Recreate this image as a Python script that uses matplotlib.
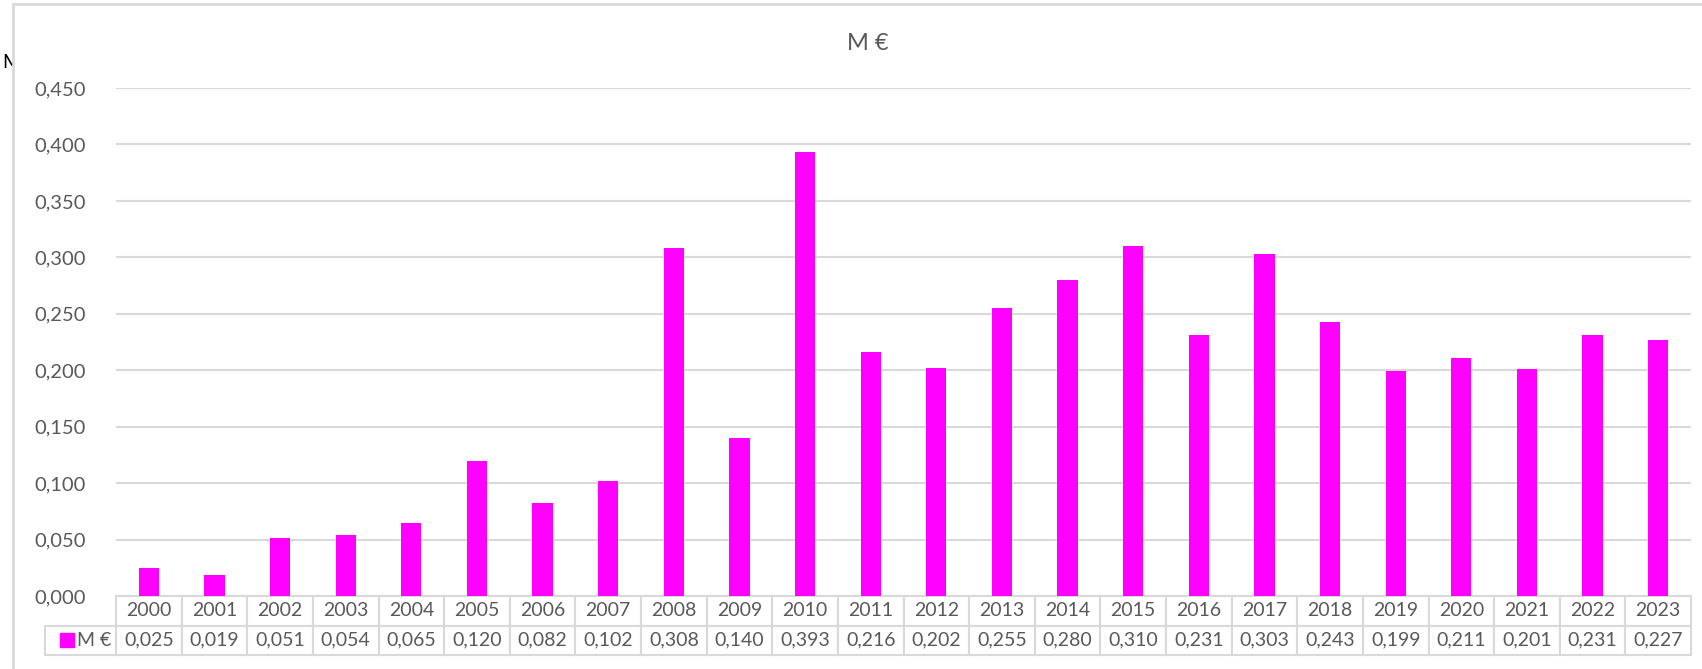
import matplotlib.pyplot as plt
from matplotlib.patches import Rectangle

years = [str(y) for y in range(2000, 2024)]
values = [0.025, 0.019, 0.051, 0.054, 0.065, 0.120, 0.082, 0.102, 0.308, 0.140,
          0.393, 0.216, 0.202, 0.255, 0.280, 0.310, 0.231, 0.303, 0.243, 0.199,
          0.211, 0.201, 0.231, 0.227]
series_name = 'M €'
yticks = [0, 0.05, 0.10, 0.15, 0.20, 0.25, 0.30, 0.35, 0.40, 0.45]

mag = '#FF00FF'
txt = '#595959'
grid = '#D9D9D9'
plt.rcParams['font.family'] = ['Lato', 'DejaVu Sans']

W, H = 1702, 669
fig = plt.figure(figsize=(W / 100, H / 100), dpi=100)

# clipped label peeking out at the left, then the chart area on top of it
fig.text(3 / W, 1 - 62 / H, series_name, fontsize=14, color='black',
         va='center', ha='left', zorder=-2)
fig.patches.append(Rectangle((13 / W, -0.1), 1.2, 1.1 - 4 / H, transform=fig.transFigure,
                             facecolor='white', edgecolor=grid, lw=2, zorder=-1))

ax = fig.add_axes([116 / W, 1 - 596 / H, (1691 - 116) / W, (596 - 88) / H])
ax.set_facecolor('none')
x = range(len(years))
ax.bar(x, values, width=0.31, color=mag, zorder=2)
ax.set_xlim(-0.5, len(years) - 0.5)
ax.set_ylim(0, 0.45)
ax.set_yticks(yticks)
ax.set_yticklabels([f'{v:.3f}'.replace('.', ',') for v in yticks])
ax.tick_params(axis='y', length=0, labelsize=14.5, labelcolor=txt, pad=22)
ax.set_xticks([])
ax.grid(axis='y', color=grid, lw=1.5, zorder=0)
for s in ax.spines.values():
    s.set_visible(False)

fig.text(868 / W, 1 - 43 / H, series_name, fontsize=17, color=txt, ha='center', va='center')

# data table under the axis
row_h = 29.5 / (596 - 88)
lab_w = 58 / (1691 - 116)
tab = ax.table(cellText=[[f'{v:.3f}'.replace('.', ',') for v in values]],
               colLabels=years, rowLabels=['     ' + series_name],
               cellLoc='center', rowLoc='left',
               bbox=[0, -2 * row_h, 1, 2 * row_h])
tab.auto_set_font_size(False)
for (r, c), cell in tab.get_celld().items():
    cell.set_edgecolor(grid)
    cell.set_linewidth(1.5)
    cell.get_text().set_color(txt)
    cell.get_text().set_fontsize(14)
    if c == -1:
        cell.set_width(lab_w)
        cell.set_x(-lab_w)
ax.plot([-lab_w + 0.006], [-1.5 * row_h], marker='s', ms=10, color=mag,
        transform=ax.transAxes, clip_on=False)

fig.savefig('out.png', dpi=100)
